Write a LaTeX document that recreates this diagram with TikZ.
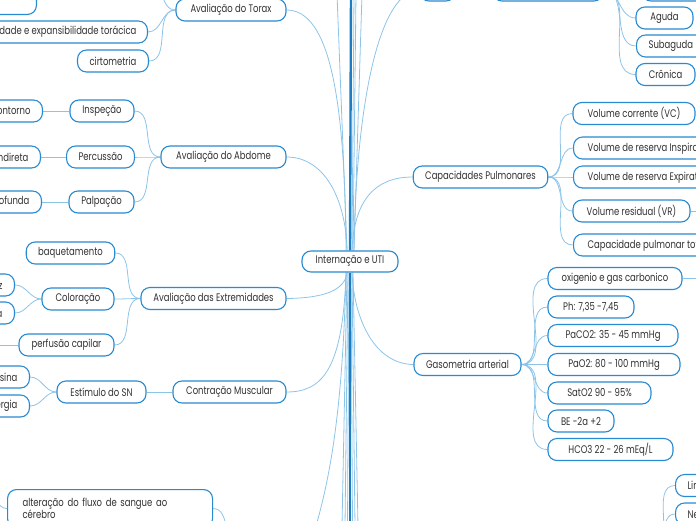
\documentclass[tikz,border=0pt]{standalone}
\usepackage{fontspec}
\setmainfont{Poppins}[FakeStretch=0.77]
\definecolor{boxblue}{RGB}{40,138,208}
\definecolor{linkblue}{RGB}{140,196,232}
\definecolor{trunkblue}{RGB}{30,124,192}
\definecolor{txt}{RGB}{50,50,50}
\pgfdeclarelayer{bg}
\pgfsetlayers{bg,main}
\tikzset{
  box/.style={draw=boxblue, line width=1.1pt, rounded corners=9pt, fill=white,
    minimum height=22pt, inner xsep=12pt, inner ysep=0pt, text=txt,
    font=\fontsize{11}{13}\selectfont},
  wbox/.style={box, minimum width=#1},
  link/.style={draw=linkblue, line width=0.8pt},
  trunk/.style={draw=trunkblue, line width=2.4pt},
}
\begin{document}
\begin{tikzpicture}[x=1pt,y=-1pt]
\useasboundingbox (0,0) rectangle (696,520);

% ---------- centre ----------
\node[wbox=96, minimum height=21pt] (cn) at (350,261.5) {Internação e UTI};

% ---------- left: Torax ----------
\node[box, minimum width=100pt, minimum height=40pt, anchor=south east] (tl) at (37,15) {};
\node[wbox=110] (torax) at (231,10) {Avaliação do Torax};
\node[box, anchor=east, inner xsep=11pt] (mob) at (148,32) {Mobilidade e expansibilidade torácica};
\node[wbox=70] (cirt) at (113,61) {cirtometria};
\coordinate (txc) at (148,-22);

% ---------- left: Abdome ----------
\node[wbox=125] (abd) at (223.5,157) {Avaliação do Abdome};
\node[wbox=64] (insp) at (102,111) {Inspeção};
\node[wbox=67] (perc) at (100.5,157) {Percussão};
\node[wbox=65] (palp) at (101.5,202) {Palpação};
\node[box, anchor=east] (cont) at (43,111) {Forma e contorno};
\node[box, anchor=east] (indi) at (41,157) {Direta e indireta};
\node[box, anchor=east] (prof) at (42,202) {Superficial e profunda};

% ---------- left: Extremidades ----------
\node[wbox=145] (ext) at (213.5,298.5) {Avaliação das Extremidades};
\node[wbox=87] (baq) at (70.5,253) {baquetamento};
\node[wbox=72] (col) at (78,299) {Coloração};
\node[wbox=95] (perf) at (66.5,345) {perfusão capilar};
\node[box, anchor=east] (pal) at (15,285) {Palidez};
\node[box, anchor=east] (cia) at (15,313) {Cianótica};
\coordinate (perfc) at (-12,345);

% ---------- left: Contracao ----------
\node[wbox=113] (contr) at (229.5,392) {Contração Muscular};
\node[wbox=89] (estn) at (101.5,392) {Estímulo do SN};
\node[box, anchor=east] (mios) at (30,377) {Actina e miosina};
\node[box, anchor=east] (ener) at (30,406) {Energia};

% ---------- bottom left ----------
\node[box, anchor=north west, minimum width=205pt, minimum height=38pt,
  text width=175pt, align=left, inner xsep=15pt, inner ysep=6pt,
  font=\fontsize{11}{12.5}\selectfont] (alt) at (7,489)
  {alteração do fluxo de sangue ao\\cérebro};
\coordinate (altl) at (-15,492);
\coordinate (altr) at (240,548);

% ---------- top right ----------
\node[wbox=35] (ba) at (437.5,-10) {};
\node[wbox=110] (bb) at (548,-10) {};
\node[wbox=78] (bc) at (681,-10) {};
\node[wbox=57] (agu) at (664.5,18) {Aguda};
\node[box, anchor=west] (sub) at (636,46) {Subaguda};
\node[wbox=59] (cro) at (665.5,74.5) {Crônica};

% ---------- right: Capacidades ----------
\node[wbox=133] (cap) at (480.5,177) {Capacidades Pulmonares};
\node[wbox=122] (vc) at (634,113.5) {Volume corrente (VC)};
\node[box, anchor=west, inner xsep=14pt] (vri) at (573,148) {Volume de reserva Inspiratório (VRI)};
\node[box, anchor=west, inner xsep=14pt] (vre) at (573,177) {Volume de reserva Expiratório (VRE)};
\node[wbox=117] (vr) at (631.5,211) {Volume residual (VR)};
\node[box, anchor=west, inner xsep=14pt] (cpt) at (573,245) {Capacidade pulmonar total (CPT)};
\coordinate (vrc) at (712,211);

% ---------- right: Gasometria ----------
\node[wbox=107] (gas) at (467.5,364.5) {Gasometria arterial};
\node[wbox=134] (oxi) at (615,278.5) {oxigenio e gas carbonico};
\node[wbox=86] (ph) at (591,307) {Ph: 7,35 -7,45};
\node[wbox=130] (paco) at (613,335.5) {PaCO2: 35 - 45 mmHg};
\node[wbox=132] (pao) at (614,364.5) {PaO2: 80 - 100 mmHg};
\node[wbox=103] (sat) at (599.5,393) {SatO2 90 - 95\%};
\node[wbox=66] (be) at (581,421) {BE -2a +2};
\node[wbox=125] (hco) at (610.5,449.5) {HCO3 22 - 26 mEq/L};
\coordinate (oxic) at (712,278.5);

% ---------- bottom right ----------
\node[box, anchor=west] (lin) at (675,485.5) {Linfócitos};
\node[box, anchor=west] (neu) at (675,514) {Neutrófilos};
\coordinate (brp) at (652,548);

% ---------- trunk ends ----------
\coordinate (t1) at (337,-6);
\coordinate (t2) at (351,-6);
\coordinate (t3) at (354,-6);
\coordinate (t4) at (356,-6);
\coordinate (t5) at (362,-6);
\coordinate (b1) at (342,526);
\coordinate (b2) at (345,526);
\coordinate (b3) at (347.5,526);
\coordinate (b4) at (350,526);
\coordinate (b5) at (352.5,526);
\coordinate (b6) at (355,526);
\coordinate (b7) at (358,526);
\coordinate (b8) at (316,526);

\begin{pgfonlayer}{bg}
% trunk lines
\draw[link] ([xshift=-3pt]cn.north) -- (t1);
\draw[link] ([xshift=2pt]cn.north) -- (t3);
\draw[link] ([xshift=3pt]cn.north) -- (t4);
\draw[link] ([xshift=4pt]cn.north) -- (t5);
\draw[trunk] (cn.north) -- (t2);
\draw[link] ([xshift=-3pt]cn.south) -- (b1);
\draw[link] ([xshift=-2pt]cn.south) -- (b2);
\draw[link] ([xshift=-1pt]cn.south) -- (b3);
\draw[link] ([xshift=1pt]cn.south) -- (b5);
\draw[link] ([xshift=2pt]cn.south) -- (b6);
\draw[link] ([xshift=3pt]cn.south) -- (b7);
\draw[trunk] (cn.south) -- (b4);
\draw[link] ([xshift=-4pt]cn.south) .. controls (343,400) and (332,470) .. (b8);

% centre to branches
\draw[link] (torax.east) .. controls (330,10) and (345,100) .. ([xshift=-4pt]cn.north);
\draw[link] (abd.east) .. controls (325,157) and (346,200) .. ([xshift=-3pt]cn.north);
\draw[link] (ext.east) .. controls (325,298) and (345,290) .. ([xshift=-3pt]cn.south);
\draw[link] (contr.east) .. controls (322,392) and (343,370) .. ([xshift=-4pt]cn.south);
\draw[link] (cap.west) .. controls (375,177) and (354,200) .. ([xshift=2pt]cn.north);
\draw[link] (gas.west) .. controls (375,364) and (354,320) .. ([xshift=2pt]cn.south);
\draw[link] (ba.west) .. controls (380,-10) and (356,100) .. ([xshift=4pt]cn.north);

% Torax children
\draw[link] (torax.west) to[out=180,in=0] (txc);
\draw[link] (torax.west) to[out=180,in=0] (mob.east);
\draw[link] (torax.west) to[out=180,in=0] (cirt.east);
% Abdome
\draw[link] (abd.west) to[out=180,in=0] (insp.east);
\draw[link] (abd.west) to[out=180,in=0] (perc.east);
\draw[link] (abd.west) to[out=180,in=0] (palp.east);
\draw[link] (insp.west) -- (cont.east);
\draw[link] (perc.west) -- (indi.east);
\draw[link] (palp.west) -- (prof.east);
% Extremidades
\draw[link] (ext.west) to[out=180,in=0] (baq.east);
\draw[link] (ext.west) to[out=180,in=0] (col.east);
\draw[link] (ext.west) to[out=180,in=0] (perf.east);
\draw[link] (col.west) to[out=180,in=0] (pal.east);
\draw[link] (col.west) to[out=180,in=0] (cia.east);
\draw[link] (perf.west) -- (perfc);
% Contracao
\draw[link] (contr.west) -- (estn.east);
\draw[link] (estn.west) to[out=180,in=0] (mios.east);
\draw[link] (estn.west) to[out=180,in=0] (ener.east);
% bottom-left
\draw[link] (alt.west) to[out=180,in=0] (altl);
\draw[link] (alt.east) to[out=0,in=180] (altr);
% top right
\draw[link] (bb.east) to[out=0,in=180] (agu.west);
\draw[link] (bb.east) to[out=0,in=180] (sub.west);
\draw[link] (bb.east) to[out=0,in=180] (cro.west);
% Capacidades
\draw[link] (cap.east) to[out=0,in=180] (vc.west);
\draw[link] (cap.east) to[out=0,in=180] (vri.west);
\draw[link] (cap.east) to[out=0,in=180] (vre.west);
\draw[link] (cap.east) to[out=0,in=180] (vr.west);
\draw[link] (cap.east) to[out=0,in=180] (cpt.west);
\draw[link] (vr.east) -- (vrc);
% Gasometria
\draw[link] (gas.east) to[out=0,in=180] (oxi.west);
\draw[link] (gas.east) to[out=0,in=180] (ph.west);
\draw[link] (gas.east) to[out=0,in=180] (paco.west);
\draw[link] (gas.east) to[out=0,in=180] (pao.west);
\draw[link] (gas.east) to[out=0,in=180] (sat.west);
\draw[link] (gas.east) to[out=0,in=180] (be.west);
\draw[link] (gas.east) to[out=0,in=180] (hco.west);
\draw[link] (oxi.east) -- (oxic);
% bottom right
\draw[link] (brp) to[out=0,in=180] (lin.west);
\draw[link] (brp) to[out=0,in=180] (neu.west);
\end{pgfonlayer}
\end{tikzpicture}
\end{document}
